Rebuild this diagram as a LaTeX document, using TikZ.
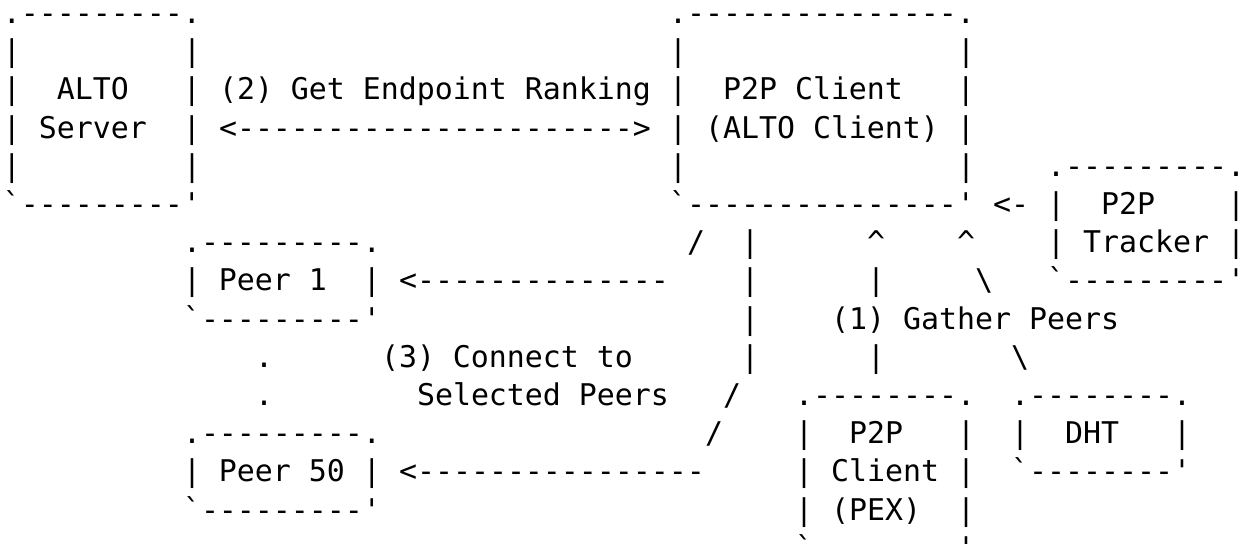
\documentclass[tikz,border=0pt]{standalone}
\usepackage{fontspec}
\setmonofont{DejaVu Sans Mono}
\begin{document}
\begin{tikzpicture}[x=9pt, y=-19.1pt,
    ascii/.style={anchor=base west, inner sep=0pt, outer sep=0pt,
      font=\ttfamily\fontsize{14.95pt}{18pt}\selectfont}]

  \useasboundingbox (-1.5pt,11.8pt) rectangle (620.5pt,-260.2pt);

  \node[ascii] (altoTop) at (0,0) {.---------.};
  \node[ascii] (altoS1) at (0,1) {|~~~~~~~~~|};
  \node[ascii] (altoL1) at (0,2) {|~~ALTO~~~|};
  \node[ascii] (altoL2) at (0,3) {|~Server~~|};
  \node[ascii] (altoS2) at (0,4) {|~~~~~~~~~|};
  \node[ascii] (altoBot) at (0,5) {`---------'};

  \node[ascii] (clientTop) at (37,0) {.---------------.};
  \node[ascii] (clientS1) at (37,1) {|~~~~~~~~~~~~~~~|};
  \node[ascii] (clientL1) at (37,2) {|~~P2P Client~~~|};
  \node[ascii] (clientL2) at (37,3) {|~(ALTO Client)~|};
  \node[ascii] (clientS2) at (37,4) {|~~~~~~~~~~~~~~~|};
  \node[ascii] (clientBot) at (37,5) {`---------------'};

  \node[ascii] (rankLbl) at (12,2) {(2) Get Endpoint Ranking};
  \node[ascii] (rankArr) at (12,3) {<---------------------->};

  \node[ascii] (trackTop) at (58,4) {.---------.};
  \node[ascii] (trackL1) at (58,5) {|~~P2P~~~~|};
  \node[ascii] (trackL2) at (58,6) {|~Tracker~|};
  \node[ascii] (trackBot) at (58,7) {`---------'};
  \node[ascii] (trackArr) at (55,5) {<-};

  \node[ascii] (peerATop) at (10,6) {.---------.};
  \node[ascii] (peerAL) at (10,7) {|~Peer 1~~|};
  \node[ascii] (peerABot) at (10,8) {`---------'};
  \node[ascii] (peerAArr) at (22,7) {<--------------};
  \node[ascii] (dotA) at (14,9) {.};
  \node[ascii] (dotB) at (14,10) {.};
  \node[ascii] (peerBTop) at (10,11) {.---------.};
  \node[ascii] (peerBL) at (10,12) {|~Peer 50~|};
  \node[ascii] (peerBBot) at (10,13) {`---------'};
  \node[ascii] (peerBArr) at (22,12) {<----------------};

  \node[ascii] (conA1) at (38,6) {/};
  \node[ascii] (conV1) at (41,6) {|};
  \node[ascii] (conV2) at (41,7) {|};
  \node[ascii] (conV3) at (41,8) {|};
  \node[ascii] (conV4) at (41,9) {|};
  \node[ascii] (conB1) at (40,10) {/};
  \node[ascii] (conB2) at (39,11) {/};
  \node[ascii] (conLbl1) at (21,9) {(3) Connect to};
  \node[ascii] (conLbl2) at (23,10) {Selected Peers};

  \node[ascii] (pexUp1) at (48,6) {\textasciicircum};
  \node[ascii] (pexUp2) at (48,7) {|};
  \node[ascii] (pexUp3) at (48,9) {|};
  \node[ascii] (dhtUp1) at (53,6) {\textasciicircum};
  \node[ascii] (dhtUp2) at (54,7) {\textbackslash};
  \node[ascii] (dhtUp3) at (56,9) {\textbackslash};
  \node[ascii] (gathLbl) at (46,8) {(1) Gather Peers};

  \node[ascii] (pexTop) at (44,10) {.--------.};
  \node[ascii] (pexL1) at (44,11) {|~~P2P~~~|};
  \node[ascii] (pexL2) at (44,12) {|~Client~|};
  \node[ascii] (pexL3) at (44,13) {|~(PEX)~~|};
  \node[ascii] (pexBot) at (44,14) {`--------'};

  \node[ascii] (dhtTop) at (56,10) {.--------.};
  \node[ascii] (dhtL) at (56,11) {|~~DHT~~~|};
  \node[ascii] (dhtBot) at (56,12) {`--------'};

\end{tikzpicture}
\end{document}
